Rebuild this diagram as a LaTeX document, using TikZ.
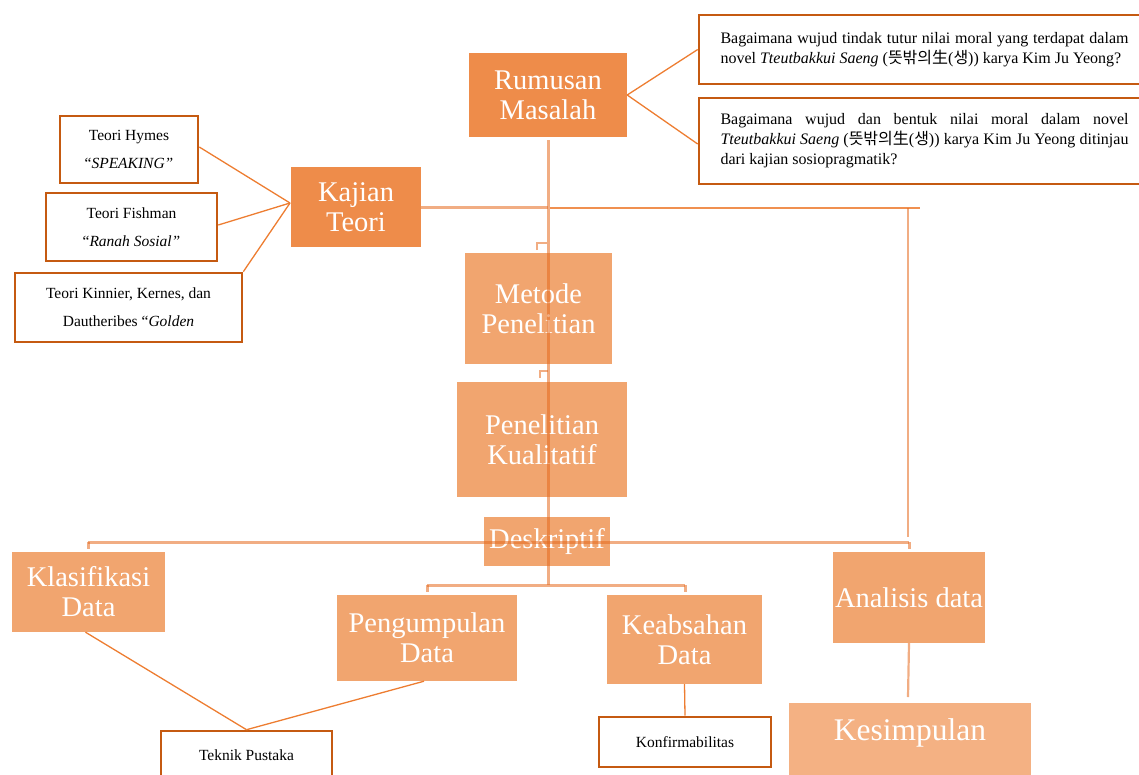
\documentclass[tikz,border=0pt]{standalone}
\usepackage{fontspec}
\setmainfont{Liberation Serif}
\newfontfamily\kr{Noto Sans CJK KR}
\definecolor{boxdark}{HTML}{EE8C4A}
\definecolor{boxlight}{HTML}{F1A56F}
\definecolor{boxpale}{HTML}{F4B183}
\definecolor{bord}{HTML}{C55A11}
\definecolor{thinc}{HTML}{ED7D31}
\definecolor{trunkc}{HTML}{E56A1E}
\begin{document}
\begin{tikzpicture}[x=1pt,y=-1pt,
  bigbox/.style={inner sep=0pt, text=white, font=\fontsize{28.5}{30}\selectfont, align=center},
  darkbox/.style={bigbox, fill=boxdark},
  lightbox/.style={bigbox, fill=boxlight},
  tbox/.style={draw=bord, line width=2.6pt, fill=white, inner sep=0pt, align=center, font=\fontsize{15.5}{28}\selectfont},
  qbox/.style={draw=bord, line width=2.6pt, fill=white, inner sep=0pt, text width=408pt, align=justify, font=\fontsize{16}{20}\selectfont},
  thin/.style={draw=thinc, line width=1.3pt},
  trunk/.style={draw=trunkc, line width=3pt, draw opacity=0.55},
  branch/.style={draw=trunkc, line width=2.2pt, draw opacity=0.55},
]
\useasboundingbox (0,0) rectangle (1139,774);

% main boxes
\node[darkbox, minimum width=158pt, minimum height=84pt] (rm) at (548,95) {Rumusan\\Masalah};
\node[darkbox, minimum width=130pt, minimum height=80pt] (kt) at (356,207) {Kajian\\Teori};
\node[lightbox, minimum width=147pt, minimum height=111pt] (mp) at (538.5,308.5) {Metode\\Penelitian};
\node[lightbox, minimum width=170pt, minimum height=115pt] (pk) at (542,439.5) {Penelitian\\Kualitatif};
\node[lightbox, minimum width=126pt, minimum height=49pt] (ds) at (547,541.5) {Deskriptif};
\node[lightbox, minimum width=153pt, minimum height=80pt] (kd) at (88.5,592) {Klasifikasi\\Data};
\node[lightbox, minimum width=180pt, minimum height=86pt] (pd) at (427,638) {Pengumpulan\\Data};
\node[lightbox, minimum width=155pt, minimum height=89pt] (kb) at (684.5,639.5) {Keabsahan\\Data};
\node[lightbox, minimum width=152pt, minimum height=91pt] (ad) at (909,597.5) {Analisis data};
\node[bigbox, fill=boxpale, minimum width=242pt, minimum height=84pt] (ks) at (910,745) {};
\node[bigbox, font=\fontsize{31.5}{33}\selectfont] (kst) at (910,733) {Kesimpulan};

% white text boxes
\node[qbox, minimum width=451pt, minimum height=69pt] (q1) at (924.5,49.5)
  {Bagaimana wujud tindak tutur nilai moral yang terdapat dalam novel \textit{Tteutbakkui Saeng} ({\kr 뜻밖의生}({\kr 생})) karya Kim Ju Yeong?};
\node[qbox, minimum width=451pt, minimum height=86pt] (q2) at (924.5,141)
  {Bagaimana wujud dan bentuk nilai moral dalam novel\linebreak \textit{Tteutbakkui Saeng} ({\kr 뜻밖의生}({\kr 생})) karya Kim Ju Yeong ditinjau\linebreak dari kajian sosiopragmatik?};
\node[tbox, minimum width=138pt, minimum height=67pt] (hy) at (129,149.5) {Teori Hymes\\“\textit{SPEAKING”}};
\node[tbox, minimum width=171pt, minimum height=68pt] (fi) at (131.5,227) {Teori Fishman\\“\textit{Ranah Sosial”}};
\node[tbox, minimum width=227pt, minimum height=69pt] (kn) at (128.5,307.5) {Teori Kinnier, Kernes, dan\\Dautheribes “\textit{Golden}};
\node[tbox, minimum width=171pt, minimum height=48pt] (tp) at (246.5,755) {Teknik Pustaka};
\node[tbox, minimum width=172pt, minimum height=50pt] (kf) at (685,742) {Konfirmabilitas};

% coordinates
\coordinate (rmb) at (548,140);
\coordinate (tk) at (548,207);
\coordinate (tj) at (550,208);
\coordinate (re) at (920,208);
\coordinate (rv) at (908,208);
\coordinate (rvb) at (908,537);
\coordinate (dl) at (88,542);
\coordinate (dr) at (909,542);
\coordinate (lowj) at (548,585);
\coordinate (lowl) at (427,585);
\coordinate (lowr) at (685,585);
\coordinate (kc) at (290,203);
\coordinate (ksn) at (908,697);

% trunk and branches
\draw[trunk] (rmb) -- (lowj);
\draw[trunk] (kt.east) -- (tk);
\draw[draw=thinc, line width=1.5pt, draw opacity=0.85] (tj) -- (re);
\draw[branch] (rv) -- (rvb);
\draw[trunk] (dl) -- (dr);
\draw[trunk] (dl) -- ++(0,7);
\draw[trunk] (dr) -- ++(0,7);
\draw[trunk] (lowl) -- (lowr);
\draw[trunk] (lowl) -- ++(0,7);
\draw[trunk] (lowr) -- ++(0,7);
\draw[branch] (537,250) -- (537,243) -- (547,243);
\draw[branch] (540,378) -- (540,371) -- (548,371);
\draw[branch] (ad.south) -- (ksn);

% thin connectors
\draw[thin] (rm.east) -- (q1.west);
\draw[thin] (rm.east) -- ([yshift=-3pt]q2.west);
\draw[thin] (kc) -- ([yshift=2.5pt]hy.east);
\draw[thin] (kc) -- ([yshift=2pt]fi.east);
\draw[thin] (kc) -- (kn.north east);
\draw[thin] ([xshift=-3pt]kd.south) -- (tp.north);
\draw[thin] ([xshift=-3pt]pd.south) -- (tp.north);
\draw[thin] (kb.south) -- (kf.north);
\end{tikzpicture}
\end{document}
